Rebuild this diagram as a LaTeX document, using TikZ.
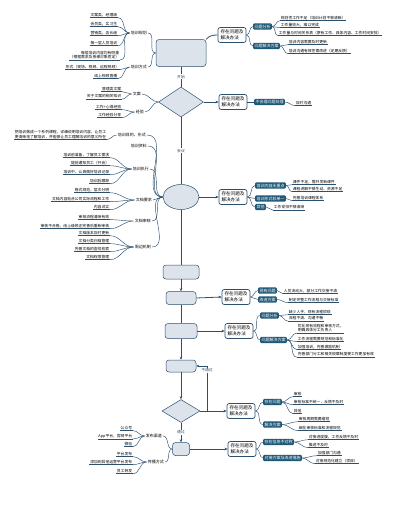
\documentclass[tikz,border=0pt]{standalone}
\usepackage{fontspec}
\setmainfont{Noto Sans CJK SC}
\usetikzlibrary{shapes.geometric, arrows.meta}

\definecolor{navy}{HTML}{2B4F6E}
\definecolor{tagfill}{HTML}{1F5877}
\definecolor{nodefill}{HTML}{DDE3EB}

\newcommand\leaffont{\fontsize{3.8}{4.6}\selectfont}
\newcommand\boxfont{\fontsize{4.6}{5.6}\selectfont}
\newcommand\tagfont{\fontsize{4}{4.8}\selectfont}

\tikzset{
	flow/.style={draw=navy, line width=0.8pt},
	arr/.style={flow, -{Stealth[length=3pt, width=2.6pt]}},
	link/.style={draw=navy, line width=0.45pt},
	leafline/.style={draw=navy, line width=0.45pt},
	flowbox/.style={draw=navy, fill=nodefill, rounded corners=3pt, line width=0.5pt},
	flowdiamond/.style={diamond, draw=navy, fill=nodefill, line width=0.5pt, inner sep=0pt},
	flowell/.style={ellipse, draw=navy, fill=nodefill, line width=0.5pt, inner sep=0pt},
	probbox/.style={draw=navy, fill=white, rounded corners=2pt, line width=0.7pt,
		font=\boxfont, align=left, inner sep=2.5pt},
	tag/.style={fill=tagfill, text=white, font=\tagfont, rounded corners=1pt, inner sep=1.3pt, anchor=west},
	sidelabel/.style={font=\tagfont, inner sep=1pt, anchor=east},
	steplabel/.style={font=\leaffont, fill=white, inner sep=0.6pt, text=navy},
	leaf/.style={font=\leaffont, inner sep=0.7pt,
		append after command={\pgfextra{\let\leafnode\tikzlastnode}
			(\leafnode.south west) edge[leafline] (\leafnode.south east)}},
	rleaf/.style={leaf, anchor=west},
	lleaf/.style={leaf, anchor=east}
}

\begin{document}
\begin{tikzpicture}[x=1pt, y=-1pt]

	\useasboundingbox (0,0) rectangle (411,517);

	% Main flow
	\node[flowbox, minimum width=50pt, minimum height=27pt] (start) at (181,53) {};
	\node[flowdiamond, minimum width=45pt, minimum height=30pt] (decide) at (181,102) {};
	\node[flowell, minimum width=36pt, minimum height=25pt] (meet) at (181,197) {};
	\node[flowbox, minimum width=36pt, minimum height=14pt] (prep) at (181,272) {};
	\node[flowbox, minimum width=30pt, minimum height=13pt] (write) at (181,298) {};
	\node[flowbox, minimum width=32pt, minimum height=15pt] (draft) at (181,331) {};
	\node[flowbox, minimum width=30pt, minimum height=12pt] (submit) at (181,366) {};
	\node[flowdiamond, minimum width=38pt, minimum height=23pt] (check) at (181,411) {};
	\node[flowbox, minimum width=17pt, minimum height=13pt] (pub) at (181,449) {};

	\draw[flow] (start) -- (decide) node[midway, steplabel] {开始};
	\draw[flow] (decide) -- (meet) node[midway, steplabel] {会议};
	\draw[flow] (meet) -- (prep);
	\draw[arr] (prep) -- (write);
	\draw[flow] (write) -- (draft);
	\draw[arr] (draft) -- (submit);
	\draw[arr] (submit) -- (check);
	\draw[arr] (check) -- (pub) node[midway, steplabel] {通过};

	% Problem boxes on the right
	\node[probbox] (p1) at (232,35) {存在问题及\\解决办法};
	\node[probbox] (p2) at (233,102) {存在问题及\\解决办法};
	\node[probbox] (p3) at (233,197) {存在问题及\\解决办法};
	\node[probbox] (p4) at (236,297) {存在问题及\\解决办法};
	\node[probbox] (p5) at (239,331) {存在问题及\\解决办法};
	\node[probbox] (p6) at (241,411) {存在问题及\\解决办法};
	\node[probbox] (p7) at (242,449) {存在问题及\\解决办法};

	\draw[flow] (start.north east) to[out=50, in=180] (p1.west);
	\draw[arr] (decide.east) -- (p2.west);
	\draw[arr] (meet.east) -- (p3.west);
	\draw[arr] (write.east) -- (p4.west);
	\draw[arr] (draft.east) -- (p5.west);
	\draw[arr] (check.east) -- (p6.west);
	\draw[arr] (pub.east) -- (p7.west);

	% Loop back when the check fails
	\coordinate (back) at (207,411);
	\draw[arr] (back) |- (submit.east) node[pos=0.45, steplabel] {不通过};

	% Tags of the problem boxes
	\node[tag] (p1a) at (253,26.5) {问题分析};
	\node[tag] (p1b) at (253,46) {问题解决方案};
	\node[tag] (p2a) at (254,102) {不合理问题处理};
	\node[tag] (p3a) at (255,185.5) {培训内容无重点};
	\node[tag] (p3b) at (255,198.5) {培训形式较单一};
	\node[tag] (p3c) at (255,207) {其他};
	\node[tag] (p4a) at (258,290.5) {现有问题};
	\node[tag] (p4b) at (258,299.5) {改进方案};
	\node[tag] (p5a) at (260,315.5) {问题分析};
	\node[tag] (p5b) at (260,340) {问题解决方案};
	\node[tag] (p6a) at (263,402) {存在问题};
	\node[tag] (p6b) at (263,424.5) {解决方案};
	\node[tag] (p7a) at (263,442) {存在信息不对称};
	\node[tag] (p7b) at (263,458) {对接方案及改进措施};

	% Leaves of the tags
	\node[rleaf] (p1a1) at (280,18) {规划性工作不足（培训计划不够清晰）};
	\node[rleaf] (p1a2) at (280,25) {工作量较大，难以完成};
	\node[rleaf] (p1a3) at (278,33) {工作量与时间关系表（原有工作、具体内容、工作时间安排）};
	\node[rleaf] (p1b1) at (288,42) {培训内容需要及时更新};
	\node[rleaf] (p1b2) at (288,51) {培训沟通有效性需改进（定期反馈）};
	\node[rleaf] (p2a1) at (295,103) {及时沟通};
	\node[rleaf] (p3a1) at (292,182) {课件不足，需开发新课件};
	\node[rleaf] (p3a2) at (292,189) {课程讲解不够生动、资源不足};
	\node[rleaf] (p3b1) at (292,198) {完善培训课程体系};
	\node[rleaf] (p3c1) at (273,207.5) {工作安排不够清晰};
	\node[rleaf] (p4a1) at (283,291) {人员流动大，部分工作交接不清};
	\node[rleaf] (p4b1) at (288,300) {制定完整工作流程与交接标准};
	\node[rleaf] (p5a1) at (288,312) {缺少人手，现有流程烦琐};
	\node[rleaf] (p5a2) at (288,318.5) {流程不清、沟通不畅};
	\node[rleaf, align=left] (p5b1) at (297,328) {优化现有流程和审核方式，\\明确具体分工负责人};
	\node[rleaf] (p5b2) at (297,339) {工作流程需要规范和标准化};
	\node[rleaf] (p5b3) at (297,347) {加强培训，完善激励机制};
	\node[rleaf] (p5b4) at (297,354.5) {完善部门分工和相关规章制度使工作更加有效};
	\node[rleaf] (p6a1) at (293,394) {审核};
	\node[rleaf] (p6a2) at (293,402) {审核标准不统一，反馈不及时};
	\node[rleaf] (p6a3) at (293,411) {其他};
	\node[rleaf] (p6b1) at (298,419) {审核周期需要缩短};
	\node[rleaf] (p6b2) at (298,428) {细化审核标准和流程规范};
	\node[rleaf] (p7a1) at (308,437) {对接进度慢，工作反馈不及时};
	\node[rleaf] (p7a2) at (308,445) {推进不及时};
	\node[rleaf] (p7b1) at (317,453) {加强部门沟通};
	\node[rleaf] (p7b2) at (315,461) {对接规范化建立（项目）};

	\foreach \b/\t in {p1/p1a, p1/p1b, p2/p2a, p3/p3a, p3/p3b, p3/p3c, p4/p4a, p4/p4b,
		p5/p5a, p5/p5b, p6/p6a, p6/p6b, p7/p7a, p7/p7b}
		\draw[link] (\b.east) to[out=0, in=180] (\t.west);

	\foreach \t/\l in {p1a/p1a1, p1a/p1a2, p1a/p1a3, p1b/p1b1, p1b/p1b2, p2a/p2a1,
		p3a/p3a1, p3a/p3a2, p3b/p3b1, p3c/p3c1, p4a/p4a1, p4b/p4b1,
		p5a/p5a1, p5a/p5a2, p5b/p5b1, p5b/p5b2, p5b/p5b3, p5b/p5b4,
		p6a/p6a1, p6a/p6a2, p6a/p6a3, p6b/p6b1, p6b/p6b2,
		p7a/p7a1, p7a/p7a2, p7b/p7b1, p7b/p7b2}
		\draw[link] (\t.east) to[out=0, in=180] (\l.south west);

	% Branches on the left
	\node[sidelabel] (plan) at (148,33) {培训规划};
	\node[sidelabel] (mode) at (148,67) {培训方式};
	\node[sidelabel] (doc) at (142,94) {文案};
	\node[sidelabel] (exp) at (145,112) {经验};
	\node[sidelabel] (aim) at (147,135) {培训目的、形式};
	\node[sidelabel] (mat) at (148,146) {培训资料};
	\node[sidelabel] (exe) at (150,169) {培训执行};
	\node[sidelabel] (req) at (153,200) {文档要求};
	\node[sidelabel] (rev) at (152,221) {文档审核};
	\node[sidelabel] (mech) at (152,247) {周边机制};
	\node[sidelabel] (chan) at (163,436) {发布渠道};
	\node[sidelabel] (way) at (165,462) {传播方式};

	\node[lleaf] (plan1) at (118,15) {文案类，经理级};
	\node[lleaf] (plan2) at (118,24) {会员类，实习生};
	\node[lleaf] (plan3) at (118,33) {营销类，店长级};
	\node[lleaf] (plan4) at (118,43) {每一层人员培训};
	\node[lleaf, align=right] (plan5) at (120,55) {每层培训内容均有侧重\\（根据需求及授课对象而定）};
	\node[lleaf] (mode1) at (120,67) {形式（现场、视频、远程视频）};
	\node[lleaf] (mode2) at (118,76) {线上视频直播};
	\node[lleaf] (doc1) at (122,89) {管理类文案};
	\node[lleaf] (doc2) at (122,96.5) {关于文案的相关知识};
	\node[lleaf] (exp1) at (122,107) {工作+心得经验};
	\node[lleaf] (exp2) at (122,115) {工作经验分享};
	\node[lleaf, align=left] (aim1) at (107,134.5) {把培训做成一个系列课程，详细说明培训内容，让员工\\更清晰地了解培训，并能够让员工理解培训的意义所在};
	\node[lleaf] (exe1) at (110,155) {培训前准备，了解员工需求};
	\node[lleaf] (exe2) at (110,163) {提前通知员工（开会）};
	\node[lleaf] (exe3) at (110,172) {培训中，认真做好培训记录};
	\node[lleaf] (exe4) at (110,181) {培训后跟踪};
	\node[lleaf] (req1) at (110,190) {格式规范，层次分明};
	\node[lleaf] (req2) at (110,199) {文档内容贴合公司实际流程和工作};
	\node[lleaf] (req3) at (110,207) {内容详实};
	\node[lleaf] (rev1) at (110,217) {审核流程清晰有效};
	\node[lleaf] (rev2) at (110,226) {审核不合格，由上级修正完善后重新审核};
	\node[lleaf] (mech1) at (110,233) {文档版本及时更新};
	\node[lleaf] (mech2) at (110,241) {文档分类归档管理};
	\node[lleaf] (mech3) at (110,249) {完善文档的查找检索};
	\node[lleaf] (mech4) at (110,257) {文档权限管理};
	\node[lleaf] (chan1) at (133,428) {公众号};
	\node[lleaf] (chan2) at (133,436) {App平台，官网平台};
	\node[lleaf] (chan3) at (133,444) {微信};
	\node[lleaf] (way1) at (133,454) {平台发布};
	\node[lleaf] (way2) at (133,462) {添加到其他运营平台发布};
	\node[lleaf] (way3) at (133,471) {员工转发};

	\foreach \n/\t in {start/plan, start/mode, decide/doc, decide/exp,
		meet/aim, meet/mat, meet/exe, meet/req, meet/rev, meet/mech, pub/chan, pub/way}
		\draw[link] (\n.west) to[out=180, in=0] (\t.east);

	\foreach \t/\l in {plan/plan1, plan/plan2, plan/plan3, plan/plan4, plan/plan5,
		mode/mode1, mode/mode2, doc/doc1, doc/doc2, exp/exp1, exp/exp2, aim/aim1,
		exe/exe1, exe/exe2, exe/exe3, exe/exe4, req/req1, req/req2, req/req3,
		rev/rev1, rev/rev2, mech/mech1, mech/mech2, mech/mech3, mech/mech4,
		chan/chan1, chan/chan2, chan/chan3, way/way1, way/way2, way/way3}
		\draw[link] (\t.west) to[out=180, in=0] (\l.south east);

\end{tikzpicture}
\end{document}
